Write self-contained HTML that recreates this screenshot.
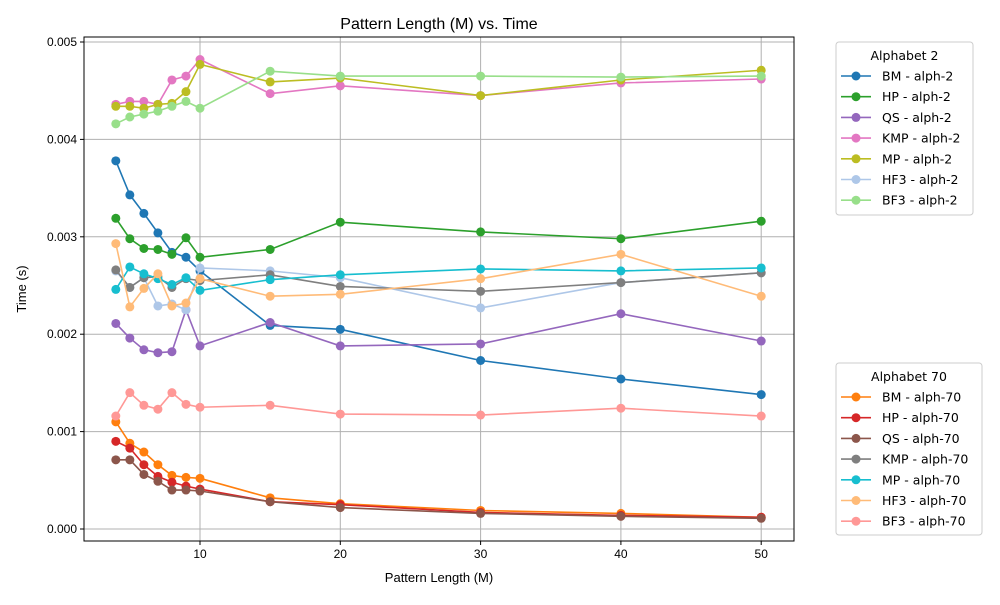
<!DOCTYPE html>
<html><head><meta charset="utf-8"><style>
body{margin:0;background:#fff;font-family:"Liberation Sans","DejaVu Sans",sans-serif}
svg text{font-family:"Liberation Sans","DejaVu Sans",sans-serif}
svg .lg text{font-family:"DejaVu Sans","Liberation Sans",sans-serif}
</style></head><body>
<svg id="chart" width="1000" height="600" xmlns="http://www.w3.org/2000/svg">
<rect width="1000" height="600" fill="#fff"/>
<g id="grid"></g>
<g id="series"></g>
<rect x="84" y="37" width="710" height="504" fill="none" stroke="#000" stroke-width="1"/>
<g id="axes"></g>
<text x="439" y="29" text-anchor="middle" font-size="16">Pattern Length (M) vs. Time</text>
<text x="439" y="582" text-anchor="middle" font-size="13">Pattern Length (M)</text>
<text x="26" y="289" text-anchor="middle" font-size="13" transform="rotate(-90 26 289)">Time (s)</text>
<g id="legends" class="lg"></g>
</svg>
<script>
const xs=[4,5,6,7,8,9,10,15,20,30,40,50];
const xTicks=[10,20,30,40,50];
const yTicks=[0,0.001,0.002,0.003,0.004,0.005];
const names2=["BM - alph-2","HP - alph-2","QS - alph-2","KMP - alph-2","MP - alph-2","HF3 - alph-2","BF3 - alph-2"];
const names70=["BM - alph-70","HP - alph-70","QS - alph-70","KMP - alph-70","MP - alph-70","HF3 - alph-70","BF3 - alph-70"];
const bm2=[0.00378,0.00343,0.00324,0.00304,0.00284,0.00279,0.00265,0.00209,0.00205,0.00173,0.00154,0.00138];
const hp2=[0.00319,0.00298,0.00288,0.00287,0.00282,0.00299,0.00279,0.00287,0.00315,0.00305,0.00298,0.00316];
const qs2=[0.00211,0.00196,0.00184,0.00181,0.00182,0.00225,0.00188,0.00212,0.00188,0.00190,0.00221,0.00193];
const kmp2=[0.00436,0.00439,0.00439,0.00436,0.00461,0.00465,0.00482,0.00447,0.00455,0.00445,0.00458,0.00462];
const mp2=[0.00434,0.00434,0.00432,0.00436,0.00437,0.00449,0.00477,0.00459,0.00463,0.00445,0.00461,0.00471];
const hf32=[0.00265,0.00248,0.00258,0.00229,0.00231,0.00225,0.00268,0.00265,0.00258,0.00227,0.00253,0.00263];
const bf32=[0.00416,0.00423,0.00426,0.00429,0.00434,0.00439,0.00432,0.00470,0.00465,0.00465,0.00464,0.00465];
const bm70=[0.00110,0.00088,0.00079,0.00066,0.00055,0.00053,0.00052,0.00032,0.00026,0.00019,0.00016,0.00012];
const hp70=[0.00090,0.00083,0.00066,0.00054,0.00048,0.00044,0.00041,0.00028,0.00025,0.00017,0.00014,0.00012];
const qs70=[0.00071,0.00071,0.00056,0.00049,0.00040,0.00040,0.00039,0.00028,0.00022,0.00016,0.00013,0.00011];
const kmp70=[0.00266,0.00248,0.00258,0.00259,0.00248,0.00257,0.00255,0.00261,0.00249,0.00244,0.00253,0.00263];
const mp70=[0.00246,0.00269,0.00262,0.00257,0.00251,0.00258,0.00245,0.00256,0.00261,0.00267,0.00265,0.00268];
const hf370=[0.00293,0.00228,0.00247,0.00262,0.00229,0.00232,0.00257,0.00239,0.00241,0.00257,0.00282,0.00239];
const bf370=[0.00116,0.00140,0.00127,0.00123,0.00140,0.00128,0.00125,0.00127,0.00118,0.00117,0.00124,0.00116];

const NS="http://www.w3.org/2000/svg";
const sx=v=>59.7+v*14.03;
const sy=v=>529-v*97400;
function mk(t,a,p){const e=document.createElementNS(NS,t);for(const k in a)e.setAttribute(k,a[k]);p.appendChild(e);return e;}
const grid=document.getElementById('grid'),axes=document.getElementById('axes');
xTicks.forEach(t=>{
  const g=mk('line',{x1:sx(t),x2:sx(t),y1:37,y2:541,stroke:'#b0b0b0','stroke-width':1},grid);
  
  
  mk('line',{x1:sx(t),x2:sx(t),y1:541,y2:545,stroke:'#000'},axes);
  const tx=mk('text',{x:sx(t),y:558,'text-anchor':'middle','font-size':12},axes);
  tx.textContent=t;
  
  
});
yTicks.forEach(t=>{
  const g=mk('line',{x1:84,x2:794,y1:sy(t),y2:sy(t),stroke:'#b0b0b0','stroke-width':1},grid);
  
  
  mk('line',{x1:80,x2:84,y1:sy(t),y2:sy(t),stroke:'#000'},axes);
  const tx=mk('text',{x:77,y:sy(t)+4,'text-anchor':'end','font-size':12},axes);
  tx.textContent=t.toFixed(3);
  
  
});
const g2=[bm2,hp2,qs2,kmp2,mp2,hf32,bf32];
const g70=[bm70,hp70,qs70,kmp70,mp70,hf370,bf370];
const c2=["#1f77b4","#2ca02c","#9467bd","#e377c2","#bcbd22","#aec7e8","#98df8a"];
const c70=["#ff7f0e","#d62728","#8c564b","#7f7f7f","#17becf","#ffbb78","#ff9896"];
const ser=document.getElementById('series');
function draw(data,color,name){
  const g=mk('g',{},ser);
  
  
  mk('polyline',{points:data.map((v,i)=>sx(xs[i])+','+sy(v)).join(' '),fill:'none',stroke:color,'stroke-width':1.6},g);
  data.forEach((v,i)=>{
    const c=mk('circle',{cx:sx(xs[i]),cy:sy(v),r:4.5,fill:color},g);
    
    
  });
}
g2.forEach((d,i)=>draw(d,c2[i],names2[i]));
g70.forEach((d,i)=>draw(d,c70[i],names70[i]));
const leg=document.getElementById('legends');
function legend(x,y,w,h,title,names,cols,nm){
  const g=mk('g',{},leg);
  
  
  mk('rect',{x:x,y:y,width:w,height:h,rx:3,fill:'#fff',stroke:'#ccc'},g);
  const t=mk('text',{x:x+w/2,y:y+18,'text-anchor':'middle','font-size':12.5},g);
  t.textContent=title;
  names.forEach((n,i)=>{
    const yy=y+34+i*20.7;
    const e=mk('g',{},g);
    
    
    mk('line',{x1:x+5,x2:x+35,y1:yy,y2:yy,stroke:cols[i],'stroke-width':1.6},e);
    mk('circle',{cx:x+20,cy:yy,r:4.5,fill:cols[i]},e);
    const tt=mk('text',{x:x+46,y:yy+4.5,'font-size':12.5},e);
    tt.textContent=n;
  });
}
legend(836,42,137,173,"Alphabet 2",names2,c2,"legend-alphabet-2");
legend(836,363,146,172,"Alphabet 70",names70,c70,"legend-alphabet-70");
</script>
</body></html>
